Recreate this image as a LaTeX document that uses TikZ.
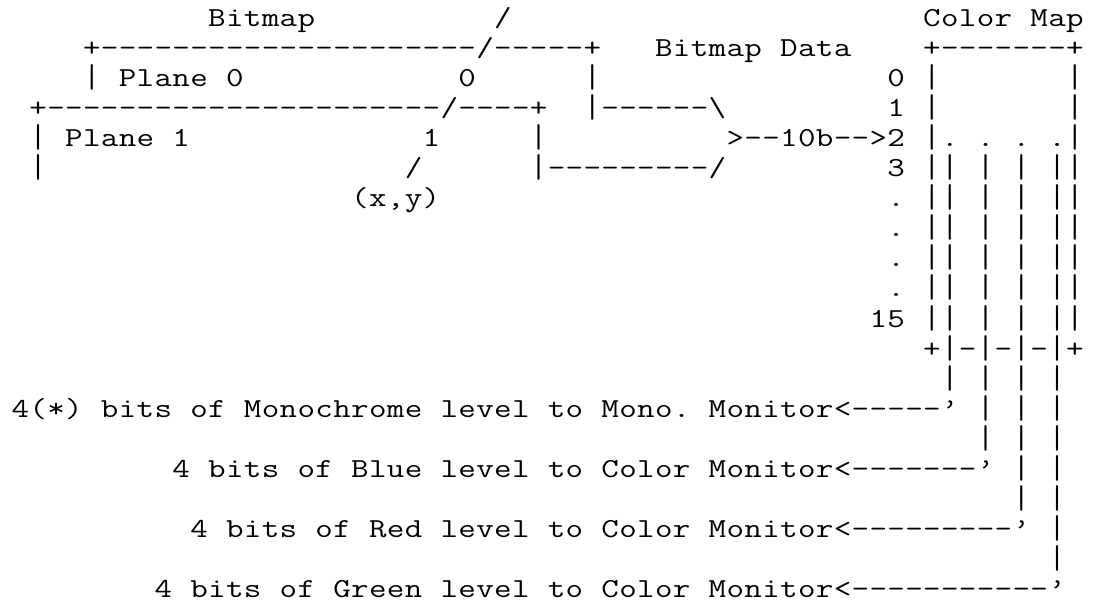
\documentclass[tikz,border=0pt]{standalone}
\usepackage{fontspec}
\usepackage{graphicx}
\newcommand\charw{17.875pt}
\newcommand\rowh{30pt}
% a row fragment: every character sits in a cell of fixed width,
% widened to typewriter proportions; bars are stretched so that
% they join from row to row
\ExplSyntaxOn
\NewDocumentCommand\cells{m}{
  \str_map_inline:nn {#1}
    {
      \str_if_eq:nnTF {##1} {|}
        { \makebox[\charw][c]{\raisebox{-1pt}{\scalebox{1.2}[1.2]{|}}} }
        { \makebox[\charw][c]{\scalebox{1.238}[1]{##1}} }
    }
}
\ExplSyntaxOff
% place a fragment at a character column and text row
\newcommand\asc[4]{\node[ascii] (#3) at ({11.4pt+#1*\charw},{-27pt-#2*\rowh}) {\cells{#4}};}
\begin{document}
\begin{tikzpicture}[
  ascii/.style={font=\ttfamily\fontsize{27.5pt}{30pt}\selectfont,
    anchor=base west, inner sep=0pt, outer sep=0pt, text=black}]
\fill[white] (0,0) rectangle (1097pt,-601pt);
\useasboundingbox (0,0) rectangle (1097pt,-601pt);
% row 0
\asc{11}{0}{bmtitle}{Bitmap}
\asc{27}{0}{ptr0}{/}
\asc{51}{0}{cmtitle}{Color Map}
% row 1
\asc{4}{1}{plane0top}{+---------------------/-----+}
\asc{36}{1}{bmdata}{Bitmap Data}
\asc{51}{1}{cmtop}{+-------+}
% row 2
\asc{4}{2}{plane0}{| Plane 0}
\asc{25}{2}{bit0}{0}
\asc{32}{2}{plane0r}{|}
\asc{49}{2}{idx0}{0}
\asc{51}{2}{cml2}{|}
\asc{59}{2}{cmr2}{|}
% row 3
\asc{1}{3}{plane1top}{+----------------------/----+}
\asc{32}{3}{wire0}{|------}
\node[ascii] (wire0end) at ({11.4pt+39*\charw},{-27pt-3*\rowh})
  {\makebox[\charw][c]{\scalebox{1.238}[1]{\textbackslash}}};
\asc{49}{3}{idx1}{1}
\asc{51}{3}{cml3}{|}
\asc{59}{3}{cmr3}{|}
% row 4
\asc{1}{4}{plane1}{| Plane 1}
\asc{23}{4}{bit1}{1}
\asc{29}{4}{plane1r}{|}
\asc{40}{4}{merge}{>--10b-->2}
\asc{51}{4}{cmrow2}{|. . . .|}
% row 5
\asc{1}{5}{plane1l}{|}
\asc{22}{5}{ptr1}{/}
\asc{29}{5}{wire1}{|---------/}
\asc{49}{5}{idx3}{3}
\asc{51}{5}{cm5}{|| | | ||}
% rows 6 to 10
\asc{19}{6}{xy}{(x,y)}
\asc{49}{6}{dot6}{.}
\asc{51}{6}{cm6}{|| | | ||}
\asc{49}{7}{dot7}{.}
\asc{51}{7}{cm7}{|| | | ||}
\asc{49}{8}{dot8}{.}
\asc{51}{8}{cm8}{|| | | ||}
\asc{49}{9}{dot9}{.}
\asc{51}{9}{cm9}{|| | | ||}
\asc{48}{10}{idx15}{15}
\asc{51}{10}{cm10}{|| | | ||}
% row 11: bottom of the colour map
\asc{51}{11}{cmbot}{+|-|-|-|+}
\asc{52}{12}{out12}{| | | |}
% outputs
\asc{0}{13}{mono}{4(*) bits of Monochrome level to Mono. Monitor<-----’}
\asc{54}{13}{out13}{| | |}
\asc{54}{14}{out14}{| | |}
\asc{9}{15}{blue}{4 bits of Blue level to Color Monitor<-------’}
\asc{56}{15}{out15}{| |}
\asc{56}{16}{out16}{| |}
\asc{10}{17}{red}{4 bits of Red level to Color Monitor<---------’}
\asc{58}{17}{out17}{|}
\asc{58}{18}{out18}{|}
\asc{8}{19}{green}{4 bits of Green level to Color Monitor<-----------’}
\end{tikzpicture}
\end{document}
